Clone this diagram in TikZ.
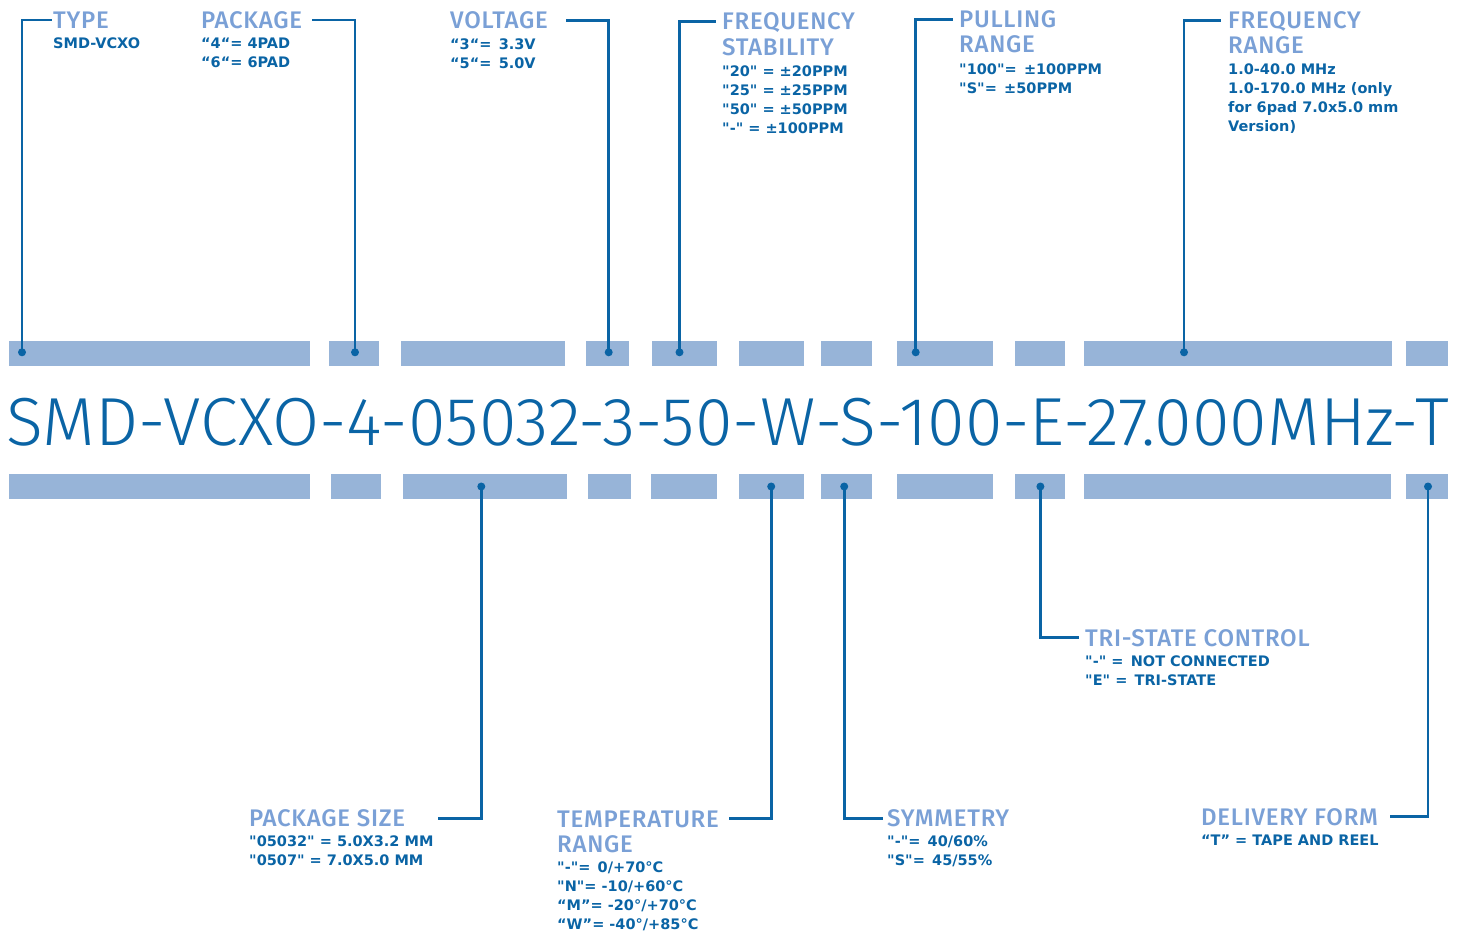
\documentclass[tikz,border=0pt]{standalone}
\usepackage{graphicx}
\usepackage{fontspec}
\setmainfont{DejaVu Sans}[Ligatures=TeXOff]
\newfontfamily\headfont{Fira Sans}[UprightFont={* Medium}, LetterSpace=3]
\newfontfamily\pnfont{Fira Sans}[UprightFont={* Light}]
\usetikzlibrary{positioning}
\definecolor{pnblue}{RGB}{10,100,165}
\definecolor{headblue}{RGB}{122,160,214}
\definecolor{barblue}{RGB}{151,180,216}
\tikzset{
  head/.style={
    font=\headfont\fontsize{24}{26}\selectfont, text=headblue, inner sep=0pt,
    text height=16.5pt, text depth=0pt
  },
  body/.style={
    font=\bfseries\fontsize{14.5}{19}\selectfont, text=pnblue,
    inner sep=0pt, align=left
  },
  pn/.style={font=\pnfont\fontsize{68}{72}\selectfont, text=pnblue, inner sep=0pt},
  bar/.style={fill=barblue},
  dot/.style={circle, fill=pnblue, inner sep=0pt, minimum size=8pt},
  lead/.style={draw=pnblue, line width=2.6pt}
}

\begin{document}
\begin{tikzpicture}[x=1pt, y=-1pt]
  \useasboundingbox (0,0) rectangle (1463,934);

  % --- segment bars ----------------------------------------------------
  \foreach \xa/\xb in {9.4/310, 329/379.4, 401/565.4, 586/629, 651.7/717.3,
      739/804.4, 821/871.7, 897/993, 1014.8/1065, 1084/1391.6, 1405.8/1448.4}
    \fill[bar] (\xa,340.7) rectangle (\xb,365.7);
  \foreach \xa/\xb in {9.4/310, 330.8/381.3, 403/566.8, 588/631, 651/717,
      739/804.4, 821/871.7, 897/993, 1014.8/1065, 1083.5/1391, 1405.8/1448.4}
    \fill[bar] (\xa,474) rectangle (\xb,499.3);

  % --- part number -----------------------------------------------------
  \node[pn, anchor=base] (partno) at (728,445)
    {\scalebox{1.004}[1]{SMD-VCXO-4-05032-3-50-W-S-100-E-27.000MHz-T}};

  % --- upper labels ----------------------------------------------------
  \node[head, anchor=base west] (typeH) at (53,28.3) {TYPE};
  \node[body, below=9pt of typeH.south west, anchor=north west] (typeB) {SMD-VCXO};

  \node[head, anchor=base west] (pkgH) at (201,28.3) {PACKAGE};
  \node[body, below=9pt of pkgH.south west, anchor=north west] (pkgB)
    {“4“= 4PAD\\“6“= 6PAD};

  \node[head, anchor=base west] (voltH) at (450,29) {VOLTAGE};
  \node[body, below=9pt of voltH.south west, anchor=north west] (voltB)
    {“3“=\enspace 3.3V\\“5“=\enspace 5.0V};

  \node[head, anchor=base west] (fstabH) at (722,30) {FREQUENCY};
  \node[head, below=8.5pt of fstabH.south west, anchor=north west] (fstabH2) {STABILITY};
  \node[body, below=10pt of fstabH2.south west, anchor=north west] (fstabB)
    {"20" = ±20PPM\\"25" = ±25PPM\\"50" = ±50PPM\\"-" = ±100PPM};

  \node[head, anchor=base west] (pullH) at (959,27.5) {PULLING};
  \node[head, below=8.5pt of pullH.south west, anchor=north west] (pullH2) {RANGE};
  \node[body, below=10pt of pullH2.south west, anchor=north west] (pullB)
    {"100"=\enspace ±100PPM\\"S"=\enspace ±50PPM};

  \node[head, anchor=base west] (frngH) at (1228,28.5) {FREQUENCY};
  \node[head, below=8.5pt of frngH.south west, anchor=north west] (frngH2) {RANGE};
  \node[body, below=9pt of frngH2.south west, anchor=north west] (frngB)
    {1.0-40.0 MHz\\1.0-170.0 MHz (only\\for 6pad 7.0x5.0 mm\\Version)};

  % --- lower labels ----------------------------------------------------
  \node[head, anchor=base west] (psizeH) at (249,826.7) {PACKAGE SIZE};
  \node[body, below=9pt of psizeH.south west, anchor=north west] (psizeB)
    {"05032" = 5.0X3.2 MM\\"0507" = 7.0X5.0 MM};

  \node[head, anchor=base west] (tempH) at (557,827) {TEMPERATURE};
  \node[head, below=8.5pt of tempH.south west, anchor=north west] (tempH2) {RANGE};
  \node[body, below=9pt of tempH2.south west, anchor=north west] (tempB)
    {"-"=\enspace 0/+70°C\\"N"= -10/+60°C\\“M”= -20°/+70°C\\“W”= -40°/+85°C};

  \node[head, anchor=base west] (symH) at (887,826.7) {SYMMETRY};
  \node[body, below=9pt of symH.south west, anchor=north west] (symB)
    {"-"=\enspace 40/60\%\\"S"=\enspace 45/55\%};

  \node[head, anchor=base west] (triH) at (1085,646) {TRI-STATE CONTROL};
  \node[body, below=9pt of triH.south west, anchor=north west] (triB)
    {"-" =\enspace NOT CONNECTED\\"E" =\enspace TRI-STATE};

  \node[head, anchor=base west] (delivH) at (1201,825) {DELIVERY FORM};
  \node[body, below=10pt of delivH.south west, anchor=north west] (delivB)
    {“T” = TAPE AND REEL};

  % --- marker dots -----------------------------------------------------
  \node[dot] (dType) at (22,352.3) {};
  \node[dot] (dPkg) at (355,352.3) {};
  \node[dot] (dVolt) at (608.7,352.3) {};
  \node[dot] (dFstab) at (679.5,352.3) {};
  \node[dot] (dPull) at (915.7,352.3) {};
  \node[dot] (dFrng) at (1184,352.3) {};
  \node[dot] (dPsize) at (481.3,486.5) {};
  \node[dot] (dTemp) at (771.2,486.5) {};
  \node[dot] (dSym) at (844.2,486.5) {};
  \node[dot] (dTri) at (1040.4,486.5) {};
  \node[dot] (dDeliv) at (1428,486.5) {};

  % --- leaders ---------------------------------------------------------
  \draw[lead] (dType.center) |- ([xshift=-1pt]typeH.west);
  \draw[lead] (dPkg.center) |- ([xshift=10pt]pkgH.east);
  \draw[lead] (dVolt.center) |- ([xshift=18pt]voltH.east);
  \draw[lead] (dFstab.center) |- ([xshift=-6pt]fstabH.west);
  \draw[lead] (dPull.center) |- ([xshift=-6pt]pullH.west);
  \draw[lead] (dFrng.center) |- ([xshift=-7pt]frngH.west);
  \draw[lead] (dPsize.center) |- ([xshift=33pt]psizeH.east);
  \draw[lead] (dTemp.center) |- ([xshift=10pt]tempH.east);
  \draw[lead] (dSym.center) |- ([xshift=-4pt]symH.west);
  \draw[lead] (dTri.center) |- ([xshift=-6pt]triH.west);
  \draw[lead] (dDeliv.center) |- ([xshift=12pt]delivH.east);
\end{tikzpicture}
\end{document}
